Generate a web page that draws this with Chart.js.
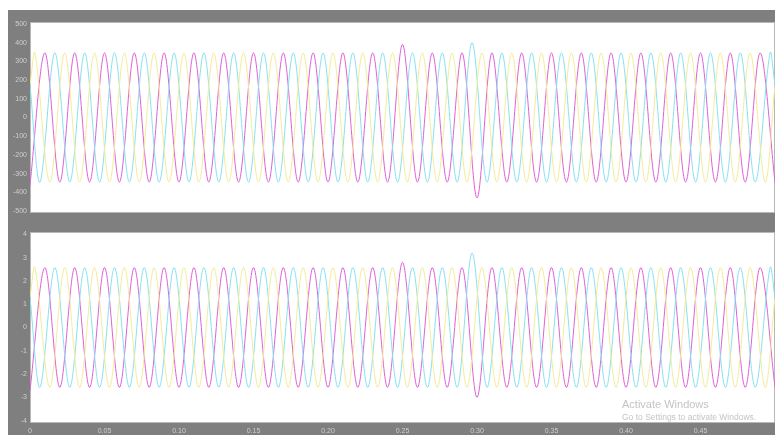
<!DOCTYPE html>
<html>
<head>
<meta charset="utf-8">
<script src="https://cdn.jsdelivr.net/npm/chart.js@4.4.0/dist/chart.umd.min.js"></script>
<style>
  html, body { margin: 0; padding: 0; background: #ffffff; }
  #frame { position: absolute; left: 8px; top: 10px; width: 767px; height: 425px; background: #7f7f7f; }
  #topCanvas { position: absolute; left: 8px; top: 10px; }
  #botCanvas { position: absolute; left: 8px; top: 222px; }
  .wm { position: absolute; color: #c4c4c4; font-family: "Liberation Sans", Arial, sans-serif; white-space: nowrap; }
</style>
</head>
<body>
<div id="frame"></div>
<canvas id="topCanvas" width="767" height="212"></canvas>
<canvas id="botCanvas" width="767" height="213"></canvas>
<div class="wm" style="left:622px; top:398px; font-size:11px;">Activate Windows</div>
<div class="wm" style="left:622px; top:412px; font-size:8.5px;">Go to Settings to activate Windows.</div>

<script>
// time of each extreme, in milliseconds
var magentaT = [0,10,20,30,40,50,60,70,80,90,100,110,120,130,140,150,160,170,180,190,200,210,220,230,240,250,260,270,280,290,300,310,320,330,340,350,360,370,380,390,400,410,420,430,440,450,460,470,480,490,500];
var cyanT = [0,6.7,16.7,26.7,36.7,46.7,56.7,66.7,76.7,86.7,96.7,106.7,116.7,126.7,136.7,146.7,156.7,166.7,176.7,186.7,196.7,206.7,216.7,226.7,236.7,246.7,256.7,266.7,276.7,286.7,296.7,306.7,316.7,326.7,336.7,346.7,356.7,366.7,376.7,386.7,396.7,406.7,416.7,426.7,436.7,446.7,456.7,466.7,476.7,486.7,496.7,500];
var yellowT = [0,3.3,13.3,23.3,33.3,43.3,53.3,63.3,73.3,83.3,93.3,103.3,113.3,123.3,133.3,143.3,153.3,163.3,173.3,183.3,193.3,203.3,213.3,223.3,233.3,243.3,253.3,263.3,273.3,283.3,293.3,303.3,313.3,323.3,333.3,343.3,353.3,363.3,373.3,383.3,393.3,403.3,413.3,423.3,433.3,443.3,453.3,463.3,473.3,483.3,493.3,500];

// upper panel (voltage)
var vMagenta = [-360,345,-345,345,-345,345,-345,345,-345,345,
  -345,345,-345,345,-345,345,-345,345,-345,345,
  -345,345,-345,345,-345,390,-345,345,-345,345,
  -430,345,-345,345,-345,345,-345,345,-345,345,
  -345,345,-345,345,-345,345,-345,345,-345,345,
  -345];
var vCyan = [172,
  -345,345,-345,345,-345,345,-345,345,-345,345,
  -345,345,-345,345,-345,345,-345,345,-345,345,
  -345,345,-345,345,-345,345,-345,345,-345,400,
  -345,345,-345,345,-345,345,-345,345,-345,345,
  -345,345,-345,345,-345,345,-345,345,-345,345,
  172];
var vYellow = [172,
  345,-345,345,-345,345,-345,345,-345,345,-345,
  345,-345,345,-345,345,-345,345,-345,345,-345,
  345,-345,345,-345,345,-345,345,-345,345,-345,
  345,-345,345,-345,345,-345,345,-345,345,-345,
  345,-345,345,-345,345,-345,345,-345,345,-345,
  172];

// lower panel (current)
var iMagenta = [-2.7,2.57,-2.57,2.57,-2.57,2.57,-2.57,2.57,-2.57,2.57,
  -2.57,2.57,-2.57,2.57,-2.57,2.57,-2.57,2.57,-2.57,2.57,
  -2.57,2.57,-2.57,2.57,-2.57,2.8,-2.57,2.57,-2.57,2.57,
  -3.0,2.57,-2.57,2.57,-2.57,2.57,-2.57,2.57,-2.57,2.57,
  -2.57,2.57,-2.57,2.57,-2.57,2.57,-2.57,2.57,-2.57,2.57,
  -2.57];
var iCyan = [1.29,
  -2.57,2.57,-2.57,2.57,-2.57,2.57,-2.57,2.57,-2.57,2.57,
  -2.57,2.57,-2.57,2.57,-2.57,2.57,-2.57,2.57,-2.57,2.57,
  -2.57,2.57,-2.57,2.57,-2.57,2.57,-2.57,2.57,-2.57,3.2,
  -2.57,2.57,-2.57,2.57,-2.57,2.57,-2.57,2.57,-2.57,2.57,
  -2.57,2.57,-2.57,2.57,-2.57,2.57,-2.57,2.57,-2.57,2.57,
  1.29];
var iYellow = [1.29,
  2.57,-2.57,2.57,-2.57,2.57,-2.57,2.57,-2.57,2.57,-2.57,
  2.57,-2.57,2.57,-2.57,2.57,-2.57,2.57,-2.57,2.57,-2.57,
  2.57,-2.57,2.57,-2.57,2.57,-2.57,2.57,-2.57,2.57,-2.57,
  2.57,-2.57,2.57,-2.57,2.57,-2.57,2.57,-2.57,2.57,-2.57,
  2.57,-2.57,2.57,-2.57,2.57,-2.57,2.57,-2.57,2.57,-2.57,
  1.29];

var xTicks = [0, 0.05, 0.1, 0.15, 0.2, 0.25, 0.3, 0.35, 0.4, 0.45];
var vTicks = [-500, -400, -300, -200, -100, 0, 100, 200, 300, 400, 500];
var iTicks = [-4, -3, -2, -1, 0, 1, 2, 3, 4];

var colors = { magenta: '#e060d6', cyan: '#86e2f0', yellow: '#f4ec98' };
var tickFont = { family: 'Liberation Sans', size: 7 };
var tickColor = '#cfcfcf';

function points(times, values) {
    return times.map(function (t, i) { return { x: t / 1000, y: values[i] }; });
}

function makeDatasets(mag, cya, yel) {
    // yellow under cyan under magenta
    return [
        { data: points(yellowT, yel), borderColor: colors.yellow },
        { data: points(cyanT, cya), borderColor: colors.cyan },
        { data: points(magentaT, mag), borderColor: colors.magenta }
    ].map(function (d) {
        d.borderWidth = 1;
        d.pointRadius = 0;
        d.tension = 0.33;
        d.fill = false;
        return d;
    });
}

var plotBg = {
    id: 'plotBg',
    beforeDraw: function (chart) {
        var a = chart.chartArea, ctx = chart.ctx;
        ctx.save();
        ctx.fillStyle = '#ffffff';
        ctx.fillRect(a.left, a.top, a.right - a.left, a.bottom - a.top);
        ctx.strokeStyle = '#b8b8b8';
        ctx.lineWidth = 1;
        ctx.strokeRect(a.left + 0.5, a.top + 0.5, a.right - a.left - 1, a.bottom - a.top - 1);
        ctx.restore();
    }
};

function makeOptions(yTicks, yMin, yMax, showX, padding) {
    return {
        responsive: false,
        animation: false,
        layout: { padding: padding },
        plugins: { legend: { display: false }, tooltip: { enabled: false } },
        scales: {
            x: {
                type: 'linear',
                min: 0,
                max: 0.5,
                display: showX,
                grid: { display: false, drawTicks: false },
                border: { display: false },
                ticks: { font: tickFont, color: tickColor, padding: 4, maxRotation: 0 },
                afterBuildTicks: function (scale) {
                    scale.ticks = xTicks.map(function (v) { return { value: v }; });
                },
                afterFit: function (scale) { scale.height = showX ? 12 : 0; }
            },
            y: {
                min: yMin,
                max: yMax,
                grid: { display: false, drawTicks: false },
                border: { display: false },
                ticks: { font: tickFont, color: tickColor, padding: 3 },
                afterBuildTicks: function (scale) {
                    scale.ticks = yTicks.map(function (v) { return { value: v }; });
                },
                afterFit: function (scale) { scale.width = 22; }
            }
        }
    };
}

new Chart(document.getElementById('topCanvas').getContext('2d'), {
    type: 'line',
    data: { datasets: makeDatasets(vMagenta, vCyan, vYellow) },
    options: makeOptions(vTicks, -510, 510, false, { top: 12, bottom: 9, left: 0, right: 0 }),
    plugins: [plotBg]
});

new Chart(document.getElementById('botCanvas').getContext('2d'), {
    type: 'line',
    data: { datasets: makeDatasets(iMagenta, iCyan, iYellow) },
    options: makeOptions(iTicks, -4.1, 4.1, true, { top: 10, bottom: 0, left: 0, right: 0 }),
    plugins: [plotBg]
});
</script>
</body>
</html>
